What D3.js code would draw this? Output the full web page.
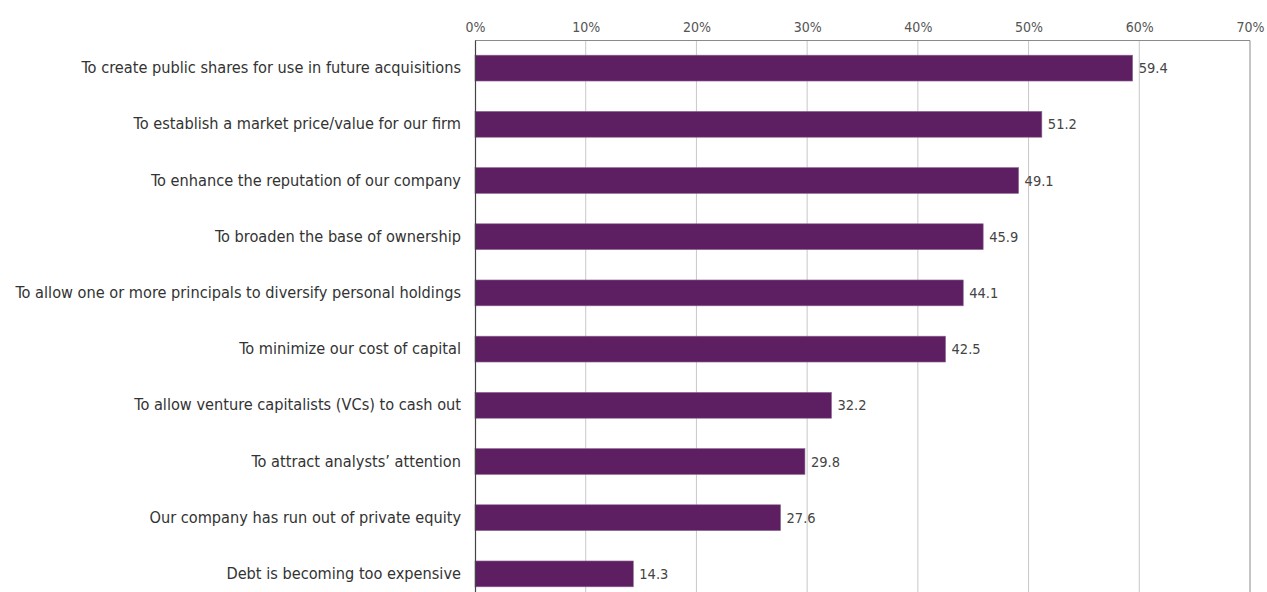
<!DOCTYPE html>
<html>
<head>
<meta charset="utf-8">
<script src="https://cdn.jsdelivr.net/npm/d3@7"></script>
<style>
  body { margin: 0; background: #fff; }
  svg text { font-family: "Liberation Sans Narrow", "DejaVu Sans Condensed", "Roboto Condensed", sans-serif; }
</style>
</head>
<body>
<svg id="chart" width="1267" height="592"></svg>
<script>
const reasons = [
  'To create public shares for use in future acquisitions',
  'To establish a market price/value for our firm',
  'To enhance the reputation of our company',
  'To broaden the base of ownership',
  'To allow one or more principals to diversify personal holdings',
  'To minimize our cost of capital',
  'To allow venture capitalists (VCs) to cash out',
  'To attract analysts\u2019 attention',
  'Our company has run out of private equity',
  'Debt is becoming too expensive'
];
const pct = [59.4, 51.2, 49.1, 45.9, 44.1, 42.5, 32.2, 29.8, 27.6, 14.3];
const ticks = [0, 10, 20, 30, 40, 50, 60, 70];

const margin = { top: 40, left: 475, right: 17 };
const width = 1267 - margin.left - margin.right;
const height = 562;

const svg = d3.select('#chart');
const g = svg.append('g')
    .attr('transform', `translate(${margin.left}, ${margin.top})`);

const xScale = d3.scaleLinear()
    .domain([0, 70])
    .range([0, width]);

const yScale = d3.scaleBand()
    .domain(reasons)
    .range([0, height])
    .paddingInner(0.54)
    .paddingOuter(0.27);

// grid lines
g.selectAll('.grid')
    .data(ticks.slice(1, -1))
    .enter()
    .append('line')
    .attr('class', 'grid')
    .attr('x1', d => xScale(d))
    .attr('x2', d => xScale(d))
    .attr('y1', 0)
    .attr('y2', height)
    .attr('stroke', '#c8c8c8')
    .attr('stroke-width', 1);

// frame top + right
g.append('path')
    .attr('d', `M0,0.5H${xScale(70)}V${height}`)
    .attr('fill', 'none')
    .attr('stroke', '#8a8a8a')
    .attr('stroke-width', 1);

const xAxis = d3.axisTop(xScale)
    .tickValues(ticks)
    .tickFormat(d => d + '%')
    .tickSize(0)
    .tickPadding(8);

g.append('g')
    .attr('class', 'xAxis')
    .call(xAxis)
    .call(a => a.select('.domain').remove())
    .selectAll('text')
    .attr('font-size', 14)
    .attr('fill', '#555');

// bars
g.selectAll('.bar')
    .data(pct)
    .enter()
    .append('rect')
    .attr('class', 'bar')
    .attr('x', 0)
    .attr('y', (d, i) => yScale(reasons[i]))
    .attr('width', d => xScale(d))
    .attr('height', yScale.bandwidth())
    .attr('fill', '#5d1f62')
    .attr('stroke', '#8e6a93')
    .attr('stroke-width', 0.6);

// value labels
g.selectAll('.val')
    .data(pct)
    .enter()
    .append('text')
    .attr('class', 'val')
    .attr('x', d => xScale(d) + 6)
    .attr('y', (d, i) => yScale(reasons[i]) + yScale.bandwidth() / 2)
    .attr('dy', '0.35em')
    .attr('font-size', 14.5)
    .attr('fill', '#444')
    .text(d => d.toFixed(1));

const yAxis = d3.axisLeft(yScale)
    .tickSize(0)
    .tickPadding(14);

g.append('g')
    .attr('class', 'yAxis')
    .call(yAxis)
    .call(a => a.select('.domain')
        .attr('stroke', '#444')
        .attr('stroke-width', 1.2))
    .selectAll('text')
    .attr('font-size', 16.2)
    .attr('fill', '#333');
</script>
</body>
</html>
